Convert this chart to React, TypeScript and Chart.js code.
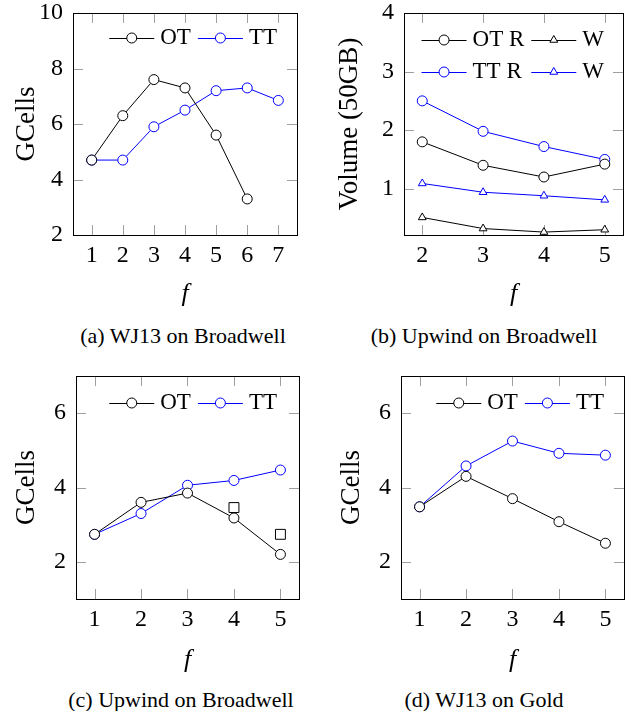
import { useEffect, useRef } from "react";
import { Chart, registerables } from "chart.js";
Chart.register(...registerables);

// (a) WJ13 on Broadwell
const aF = [1, 2, 3, 4, 5, 6, 7];
const aOT = [4.7, 6.3, 7.6, 7.3, 5.6, 3.3];
const aTT = [4.7, 4.7, 5.9, 6.5, 7.2, 7.3, 6.85];
const aXTicks = [1, 2, 3, 4, 5, 6, 7];
const aYTicks = [2, 4, 6, 8, 10];

// (b) Upwind on Broadwell (volume)
const bF = [2, 3, 4, 5];
const bOTR = [1.8, 1.4, 1.2, 1.42];
const bOTW = [0.51, 0.32, 0.26, 0.3];
const bTTR = [2.5, 1.98, 1.72, 1.5];
const bTTW = [1.09, 0.94, 0.88, 0.81];
const bXTicks = [2, 3, 4, 5];
const bYTicks = [1, 2, 3, 4];

// (c) Upwind on Broadwell
const cF = [1, 2, 3, 4, 5];
const cOT = [2.74, 3.6, 3.85, 3.18, 2.2];
const cTT = [2.74, 3.3, 4.06, 4.19, 4.47];
const cExtraF = [4, 5];
const cExtra = [3.46, 2.74];
const cXTicks = [1, 2, 3, 4, 5];
const cYTicks = [2, 4, 6];

// (d) WJ13 on Gold
const dF = [1, 2, 3, 4, 5];
const dOT = [3.48, 4.3, 3.7, 3.08, 2.5];
const dTT = [3.48, 4.58, 5.25, 4.92, 4.87];
const dXTicks = [1, 2, 3, 4, 5];
const dYTicks = [2, 4, 6];

const captions = [
  "(a) WJ13 on Broadwell",
  "(b) Upwind on Broadwell",
  "(c) Upwind on Broadwell",
  "(d) WJ13 on Gold",
];

const BLACK = "#000000";
const BLUE = "#0000ff";
const SERIF = "'Liberation Serif', 'Times New Roman', serif";

const pts = (xs: number[], ys: number[]) => ys.map((y, i) => ({ x: xs[i], y }));

function series(label: string, xs: number[], ys: number[], color: string, style: string, extra: any = {}) {
  return {
    label,
    data: pts(xs, ys),
    borderColor: color,
    backgroundColor: color,
    borderWidth: 1,
    pointStyle: style,
    pointRadius: style === "triangle" ? 4.5 : 5,
    pointBorderColor: color,
    pointBackgroundColor: "#ffffff",
    pointBorderWidth: 1,
    pointHoverRadius: 5,
    showLine: true,
    fill: false,
    tension: 0,
    ...extra,
  };
}

function drawMarker(ctx: CanvasRenderingContext2D, style: string, x: number, y: number, r: number, color: string) {
  ctx.beginPath();
  if (style === "triangle") {
    const a = (2 * Math.PI) / 3;
    ctx.moveTo(x, y - r);
    ctx.lineTo(x + Math.sin(a) * r, y - Math.cos(a) * r);
    ctx.lineTo(x - Math.sin(a) * r, y - Math.cos(a) * r);
    ctx.closePath();
  } else {
    ctx.arc(x, y, r, 0, Math.PI * 2);
  }
  ctx.fillStyle = "#ffffff";
  ctx.fill();
  ctx.strokeStyle = color;
  ctx.lineWidth = 1;
  ctx.stroke();
}

const framePlugin = {
  id: "pgfFrame",
  beforeDatasetsDraw(chart: any) {
    const { ctx, chartArea, scales } = chart;
    const { left, top, right, bottom } = chartArea;
    const L = 10;
    ctx.save();
    ctx.strokeStyle = "#a0a0a0";
    ctx.lineWidth = 1;
    ctx.beginPath();
    for (const t of scales.x.ticks) {
      const px = Math.round(scales.x.getPixelForValue(t.value)) + 0.5;
      ctx.moveTo(px, bottom);
      ctx.lineTo(px, bottom - L);
      ctx.moveTo(px, top);
      ctx.lineTo(px, top + L);
    }
    for (const t of scales.y.ticks) {
      const py = Math.round(scales.y.getPixelForValue(t.value)) + 0.5;
      ctx.moveTo(left, py);
      ctx.lineTo(left + L, py);
      ctx.moveTo(right, py);
      ctx.lineTo(right - L, py);
    }
    ctx.stroke();
    ctx.restore();
  },
  afterDraw(chart: any, _args: any, opts: any) {
    const { ctx, chartArea } = chart;
    const { left, top, right, bottom } = chartArea;
    ctx.save();
    ctx.strokeStyle = "#000";
    ctx.lineWidth = 1;
    ctx.strokeRect(Math.round(left) + 0.5, Math.round(top) + 0.5, Math.round(right - left), Math.round(bottom - top));

    // legend (line + marker + text), columns aligned
    const rows: number[][] = opts.rows || [];
    const lineLen = 45;
    const gapLT = 6;
    const colGap = 7;
    ctx.font = `${opts.fontSize || 23}px ${SERIF}`;
    const ncol = Math.max(...rows.map((r) => r.length));
    const colText: number[] = [];
    for (let c = 0; c < ncol; c++) {
      let m = 0;
      for (const r of rows) {
        if (r[c] !== undefined) m = Math.max(m, ctx.measureText(chart.data.datasets[r[c]].label).width);
      }
      colText.push(m);
    }
    const colW = colText.map((w) => lineLen + gapLT + w);
    const total = colW.reduce((s, w) => s + w, 0) + colGap * (ncol - 1);
    const x0 = right - opts.rightInset - total;
    rows.forEach((row, ri) => {
      const y = top + opts.topInset + ri * (opts.rowGap || 32);
      let cx = x0;
      row.forEach((di, ci) => {
        const ds = chart.data.datasets[di];
        ctx.strokeStyle = ds.borderColor;
        ctx.lineWidth = 1;
        ctx.beginPath();
        ctx.moveTo(cx, Math.round(y) + 0.5);
        ctx.lineTo(cx + lineLen, Math.round(y) + 0.5);
        ctx.stroke();
        drawMarker(ctx, ds.pointStyle, cx + lineLen / 2, y, ds.pointRadius, ds.borderColor);
        ctx.fillStyle = "#000";
        ctx.textAlign = "left";
        ctx.textBaseline = "middle";
        ctx.fillText(ds.label, cx + lineLen + gapLT, y);
        cx += colW[ci] + colGap;
      });
    });
    ctx.restore();
  },
};

type Area = { l: number; t: number; r: number; b: number };
type PanelDef = {
  left: number;
  top: number;
  w: number;
  h: number;
  area: Area;
  datasets: any[];
  xMin: number;
  xMax: number;
  xTicks: number[];
  yMin: number;
  yMax: number;
  yTicks: number[];
  yTitle: string;
  yTitlePad: number;
  xTitlePad: number;
  legend: any;
};

const TICK_FONT = { family: SERIF, size: 24 };
const TITLE_FONT = { family: SERIF, size: 27 };

function Panel({ def }: { def: PanelDef }) {
  const ref = useRef<HTMLCanvasElement>(null);
  useEffect(() => {
    const d = def;
    const chart = new Chart(ref.current as HTMLCanvasElement, {
      type: "line",
      data: { datasets: d.datasets },
      options: {
        animation: false,
        responsive: false,
        maintainAspectRatio: false,
        events: [],
        layout: {
          padding: { left: 0, top: d.area.t - d.top, right: d.left + d.w - d.area.r, bottom: 0 },
        },
        plugins: {
          legend: { display: false },
          tooltip: { enabled: false },
          pgfFrame: d.legend,
        } as any,
        scales: {
          x: {
            type: "linear",
            bounds: "data",
            min: d.xMin,
            max: d.xMax,
            grid: { display: false, drawTicks: false },
            border: { display: false },
            ticks: { color: "#000", font: TICK_FONT, padding: 6, maxRotation: 0, autoSkip: false },
            afterBuildTicks: (s: any) => {
              s.ticks = d.xTicks.map((v) => ({ value: v }));
            },
            afterFit: (s: any) => {
              s.height = d.top + d.h - d.area.b;
              s.paddingLeft = 0;
              s.paddingRight = 0;
              s.paddingTop = 0;
              s.paddingBottom = 0;
            },
            title: {
              display: true,
              text: "f",
              color: "#000",
              font: { family: SERIF, size: 26, style: "italic" },
              padding: { top: 0, bottom: d.xTitlePad },
            },
          },
          y: {
            type: "linear",
            bounds: "data",
            min: d.yMin,
            max: d.yMax,
            grid: { display: false, drawTicks: false },
            border: { display: false },
            ticks: { color: "#000", font: TICK_FONT, padding: 10, autoSkip: false },
            afterBuildTicks: (s: any) => {
              s.ticks = d.yTicks.map((v) => ({ value: v }));
            },
            afterFit: (s: any) => {
              s.width = d.area.l - d.left;
              s.paddingLeft = 0;
              s.paddingRight = 0;
              s.paddingTop = 0;
              s.paddingBottom = 0;
            },
            title: {
              display: true,
              text: d.yTitle,
              color: "#000",
              font: TITLE_FONT,
              padding: { top: d.yTitlePad, bottom: 0 },
            },
          },
        } as any,
      },
      plugins: [framePlugin as any],
    } as any);
    return () => chart.destroy();
  }, [def]);
  return (
    <canvas
      ref={ref}
      width={def.w}
      height={def.h}
      style={{ position: "absolute", left: def.left, top: def.top, width: def.w, height: def.h }}
    />
  );
}

const panels: PanelDef[] = [
  {
    left: 0, top: 0, w: 317, h: 320,
    area: { l: 73, t: 13, r: 297, b: 235 },
    datasets: [series("OT", aF, aOT, BLACK, "circle"), series("TT", aF, aTT, BLUE, "circle")],
    xMin: 0.4, xMax: 7.6, xTicks: aXTicks,
    yMin: 2, yMax: 10, yTicks: aYTicks,
    yTitle: "GCells", yTitlePad: 10.8, xTitlePad: 10.4,
    legend: { rows: [[0, 1]], rightInset: 20, topInset: 25 },
  },
  {
    left: 317, top: 0, w: 317, h: 320,
    area: { l: 404, t: 13, r: 623, b: 235 },
    datasets: [
      series("OT R", bF, bOTR, BLACK, "circle"),
      series("W", bF, bOTW, BLACK, "triangle"),
      series("TT R", bF, bTTR, BLUE, "circle"),
      series("W", bF, bTTW, BLUE, "triangle"),
    ],
    xMin: 1.7, xMax: 5.3, xTicks: bXTicks,
    yMin: 0.21, yMax: 4, yTicks: bYTicks,
    yTitle: "Volume (50GB)", yTitlePad: 16.8, xTitlePad: 10.4,
    legend: { rows: [[0, 1], [2, 3]], rightInset: 19, topInset: 27, rowGap: 32 },
  },
  {
    left: 0, top: 360, w: 317, h: 320,
    area: { l: 76, t: 376, r: 299, b: 599 },
    datasets: [
      series("OT", cF, cOT, BLACK, "circle"),
      series("TT", cF, cTT, BLUE, "circle"),
      series("", cExtraF, cExtra, BLACK, "rect", { showLine: false, pointRadius: 7, pointBackgroundColor: "rgba(0,0,0,0)" }),
    ],
    xMin: 0.6, xMax: 5.4, xTicks: cXTicks,
    yMin: 1, yMax: 7, yTicks: cYTicks,
    yTitle: "GCells", yTitlePad: 10.8, xTitlePad: 4.4,
    legend: { rows: [[0, 1]], rightInset: 22, topInset: 27 },
  },
  {
    left: 317, top: 360, w: 317, h: 320,
    area: { l: 401, t: 376, r: 624, b: 599 },
    datasets: [series("OT", dF, dOT, BLACK, "circle"), series("TT", dF, dTT, BLUE, "circle")],
    xMin: 0.6, xMax: 5.4, xTicks: dXTicks,
    yMin: 1, yMax: 7, yTicks: dYTicks,
    yTitle: "GCells", yTitlePad: 18.8, xTitlePad: 4.4,
    legend: { rows: [[0, 1]], rightInset: 20, topInset: 27 },
  },
];

const captionPos = [
  { cx: 183, cy: 336 },
  { cx: 484, cy: 336 },
  { cx: 181, cy: 700 },
  { cx: 484, cy: 700 },
];

export default function App() {
  return (
    <div style={{ position: "absolute", left: 0, top: 0, width: 634, height: 711, background: "#fff", overflow: "hidden" }}>
      {panels.map((p, i) => (
        <Panel key={i} def={p} />
      ))}
      {captions.map((t, i) => (
        <div
          key={"c" + i}
          style={{
            position: "absolute",
            left: captionPos[i].cx - 160,
            top: captionPos[i].cy - 13,
            width: 320,
            height: 26,
            lineHeight: "26px",
            textAlign: "center",
            fontFamily: SERIF,
            fontSize: 22,
            color: "#000",
            whiteSpace: "nowrap",
          }}
        >
          {t}
        </div>
      ))}
    </div>
  );
}
